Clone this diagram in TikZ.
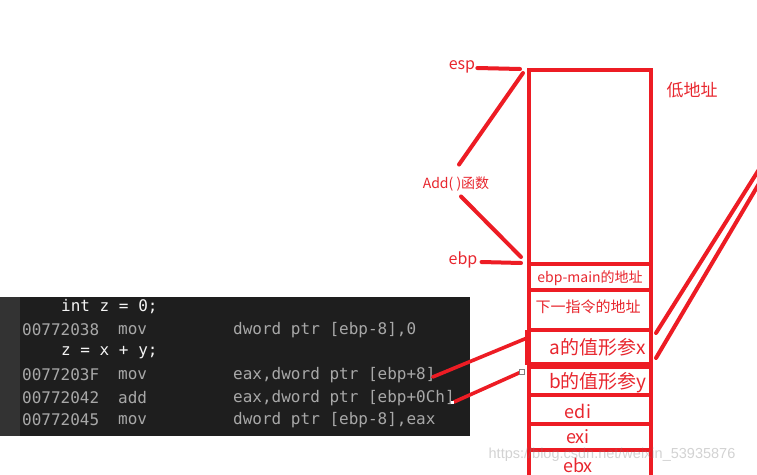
\documentclass[tikz,border=0pt]{standalone}
\usepackage{fontspec}
\setmainfont{Noto Sans CJK SC}
\newfontfamily\codefont{DejaVu Sans Mono}
\newfontfamily\wmfont{Liberation Sans}
\definecolor{pred}{HTML}{ED1C24}
\definecolor{tred}{HTML}{E8262E}
\definecolor{codebg}{HTML}{1E1E1E}
\definecolor{gutter}{HTML}{333333}
\definecolor{codegray}{HTML}{A8A8A8}
\definecolor{codewhite}{HTML}{F4F4F4}
\begin{document}
\begin{tikzpicture}[x=1pt,y=-1pt,
  cell/.style={draw=pred, line width=4pt, minimum width=122pt, inner sep=0pt},
  lbl/.style={text=tred, inner sep=0pt, font=\fontsize{15}{18}\selectfont},
  big/.style={text=tred, inner sep=0pt, font=\fontsize{19}{22}\selectfont},
  wire/.style={draw=pred, line width=4pt, line cap=round},
  thin/.style={draw=pred, line width=3.6pt, line cap=round},
  code/.style={anchor=west, inner sep=0pt, font=\codefont\fontsize{16}{19}\selectfont, text=codegray},
  src/.style={code, text=codewhite}]
\useasboundingbox (0,0) rectangle (757,474);
\clip (0,0) rectangle (757,474);
\fill[white] (0,0) rectangle (757,474);

% code panel
\fill[codebg] (0,297) rectangle (470,436);
\fill[gutter] (0,297) rectangle (20,436);
\node[src]  (l1) at (61,307) {int z = 0;};
\node[code] (a2) at (22,330) {00772038};
\node[code] (m2) at (118,330) {mov};
\node[code] (o2) at (233,330) {dword ptr [ebp-8],0};
\node[src]  (l3) at (61,353) {z = x + y;};
\node[code] (a4) at (22,375) {0077203F};
\node[code] (m4) at (118,375) {mov};
\node[code] (o4) at (233,375) {eax,dword ptr [ebp+8]};
\node[code] (a5) at (22,398) {00772042};
\node[code] (m5) at (118,398) {add};
\node[code] (o5) at (233,398) {eax,dword ptr [ebp+0Ch]};
\node[code] (a6) at (22,420) {00772045};
\node[code] (m6) at (118,420) {mov};
\node[code] (o6) at (233,420) {dword ptr [ebp-8],eax};

% stack cells
\node[cell, minimum height=194pt] (top)  at (590,167) {};
\node[cell, minimum height=26pt]  (ebpm) at (590,277) {};
\node[cell, minimum height=40pt]  (nxt)  at (590,310) {};
\node[cell, minimum height=34pt]  (ca)   at (590,347) {};
\node[cell, minimum height=28pt]  (cb)   at (590,381) {};
\node[cell, minimum height=29pt]  (cedi) at (590,409.5) {};
\node[cell, minimum height=26pt]  (cexi) at (590,437) {};
\node[cell, minimum height=40pt]  (cebx) at (590,470) {};
\draw[pred, line width=5pt] (527,330) -- (527,365);

% cell texts
\node[lbl, font=\fontsize{14}{17}\selectfont] (tebpm) at (590,278) {ebp-main的地址};
\node[lbl] (tnxt) at (588,307) {下一指令的地址};
\node[big] (ta) at (598,347) {a的值形参x};
\node[big] (tb) at (598,383) {b的值形参y};
\node[big, font=\fontsize{18}{21}\selectfont] (tedi) at (578,411) {edi};
\node[big, font=\fontsize{18}{21}\selectfont] (texi) at (578,437) {exi};
\node[big, font=\fontsize{18}{21}\selectfont] (tebx) at (578,465) {ebx};

% side labels
\node[lbl, font=\fontsize{16}{19}\selectfont] (esp) at (462,67) {esp};
\node[lbl, font=\fontsize{14}{17}\selectfont] (add) at (456,184) {Add( )函数};
\node[lbl, font=\fontsize{16}{19}\selectfont] (ebp) at (463,260) {ebp};
\node[lbl, font=\fontsize{17}{20}\selectfont] (low) at (692,90) {低地址};

% connectors on the left
\coordinate (espend) at (520,69);
\coordinate (topc) at (523,73);
\coordinate (ebpc) at (521,257);
\coordinate (ebpend) at (521,263);
\draw[wire] (esp.east) ++(2,1) -- (espend);
\draw[wire] ([yshift=12pt]add.north) ++(3,0) -- (topc);
\draw[wire] ([yshift=-5pt]add.south) ++(5,0) -- (ebpc);
\draw[wire] (ebp.east) ++(4,2) -- (ebpend);

% connectors from code
\coordinate (aend) at (527,338);
\coordinate (bend) at (521,372);
\draw[thin] (o4.east) ++(-3,2) -- (aend);
\draw[thin] (o5.east) ++(-1,4) -- (bend);
\draw[fill=white, draw=gray, line width=0.6pt] (519.5,369.5) rectangle (524.5,374.5);
\fill[white] (451,401) rectangle (454,404);

% connectors to the right
\coordinate (r1) at (770,152);
\coordinate (r2) at (770,165);
\draw[wire] (656,333) -- (r1);
\draw[wire] (656,358) -- (r2);

% watermark
\node[inner sep=0pt, text=gray, opacity=0.35, font=\wmfont\fontsize{14.5}{17}\selectfont] (wm) at (612,455) {https://blog.csdn.net/weixin\_53935876};
\end{tikzpicture}
\end{document}
